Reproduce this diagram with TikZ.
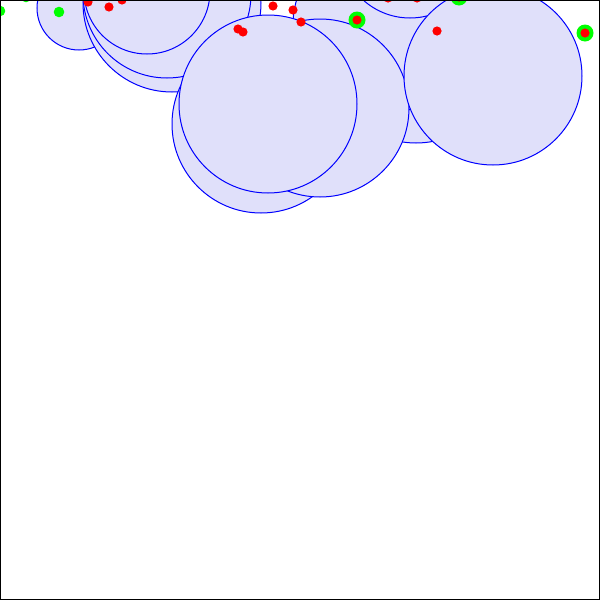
\documentclass[tikz,border=0pt]{standalone}
\usepackage{tikz}
\definecolor{diskfill}{RGB}{224,224,250}
\definecolor{diskline}{RGB}{0,0,255}
\definecolor{hitred}{RGB}{255,0,0}
\definecolor{seedgreen}{RGB}{0,255,0}

\begin{document}
\begin{tikzpicture}[x=1pt,y=-1pt,
  disk/.style={fill=diskfill,draw=diskline,line width=1pt},
  redpt/.style={fill=hitred},
  greenpt/.style={fill=seedgreen}]
  \useasboundingbox (0,0) rectangle (600,600);
  \begin{scope}
    \clip (0,0) rectangle (600,600);
    % disks, back to front
    \foreach \cx/\cy/\rad in {79/8/42, 172/3/89, 167/-6/84, 147/-9/63, 416/54/89, 382/25/89, 410/-52/70, 261/124/89, 320/108/89, 268/104/89, 493/76/89}
      \filldraw[disk] (\cx,\cy) circle[radius=\rad pt];
    \foreach \cx/\cy in {357/20, 459/-3, 585/33}
      \fill[greenpt] (\cx,\cy) circle[radius=8.5pt];
    \foreach \cx/\cy in {0/11, 26/-3, 59/12}
      \fill[greenpt] (\cx,\cy) circle[radius=5.3pt];
    \foreach \cx/\cy in {88/2, 109/7, 122/0, 238/29, 243/32, 273/6, 293/10, 301/22, 357/20, 388/-2, 417/-2, 437/31, 459/-3, 585/33}
      \fill[redpt] (\cx,\cy) circle[radius=4.6pt];
  \end{scope}
  \draw[line width=2pt] (0,0) rectangle (600,600);
\end{tikzpicture}
\end{document}
